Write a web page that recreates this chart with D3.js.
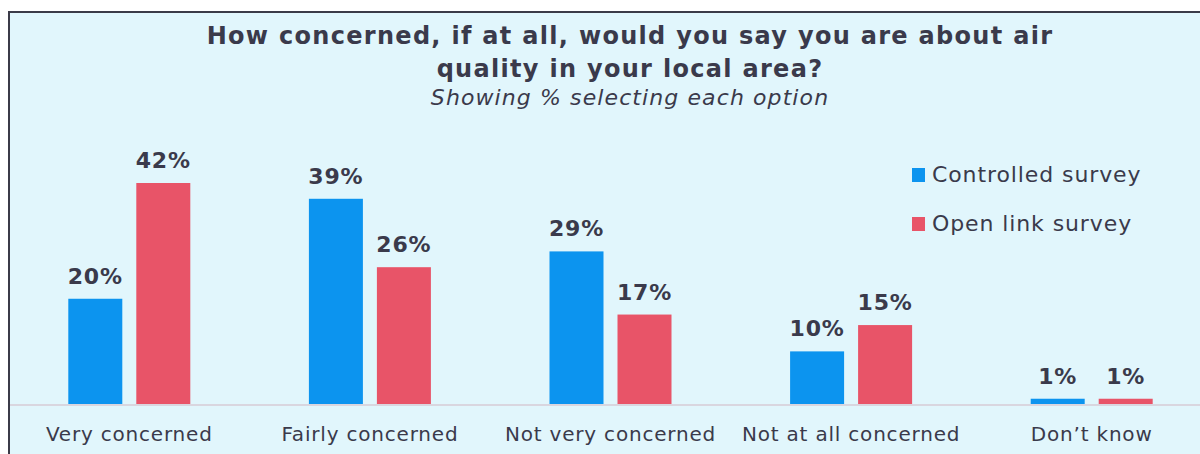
<!DOCTYPE html>
<html>
<head>
<meta charset="utf-8">
<script src="https://cdn.jsdelivr.net/npm/d3@7"></script>
<style>
  html, body { margin: 0; padding: 0; background: #ffffff; }
  svg { display: block; }
</style>
</head>
<body>
<svg id="chart" width="1200" height="454"></svg>
<script>
// Survey responses, % selecting each option
const categories = ["Very concerned", "Fairly concerned", "Not very concerned", "Not at all concerned", "Don\u2019t know"];
const seriesNames = ["Controlled survey", "Open link survey"];
const controlled = [20, 39, 29, 10, 1];
const openLink = [42, 26, 17, 15, 1];

const colors = ["#0c94ef", "#e85468"];
const textColor = "#3a3a4b";
const font = "DejaVu Sans, Verdana, sans-serif";

const svg = d3.select("#chart");
const W = 1200, H = 454;

// panel background with dark top/left frame
svg.append("rect").attr("x", 9).attr("y", 11).attr("width", W).attr("height", H)
  .attr("fill", "#e1f6fc");
svg.append("line").attr("x1", 8).attr("x2", W).attr("y1", 12).attr("y2", 12)
  .attr("stroke", "#3b3b48").attr("stroke-width", 2);
svg.append("line").attr("x1", 9).attr("x2", 9).attr("y1", 11).attr("y2", H)
  .attr("stroke", "#3b3b48").attr("stroke-width", 2);

const baseY = 404;
const x0 = d3.scaleBand().domain(categories).range([9, 1212]).paddingInner(0).paddingOuter(0);
const x1 = d3.scaleBand().domain(seriesNames)
  .range([x0.bandwidth() / 2 - 61, x0.bandwidth() / 2 + 61]).paddingInner(14 / 68);
const y = d3.scaleLinear().domain([0, 42]).range([baseY, 183]);

const rows = categories.map((c, i) => ({ cat: c, vals: [controlled[i], openLink[i]] }));

// baseline
svg.append("line").attr("x1", 10).attr("x2", W).attr("y1", baseY + 1).attr("y2", baseY + 1)
  .attr("stroke", "#d9d6df").attr("stroke-width", 2);

const groups = svg.append("g").selectAll("g").data(rows).join("g")
  .attr("transform", d => `translate(${x0(d.cat)},0)`);

groups.selectAll("rect").data(d => d.vals.map((v, k) => ({ v, k })))
  .join("rect")
  .attr("x", d => x1(seriesNames[d.k]))
  .attr("width", x1.bandwidth())
  .attr("y", d => y(d.v))
  .attr("height", d => baseY - y(d.v))
  .attr("fill", d => colors[d.k]);

groups.selectAll("text.val").data(d => d.vals.map((v, k) => ({ v, k })))
  .join("text")
  .attr("class", "val")
  .attr("x", d => x1(seriesNames[d.k]) + x1.bandwidth() / 2)
  .attr("y", d => y(d.v) - 15)
  .attr("text-anchor", "middle")
  .attr("font-family", font)
  .attr("font-weight", "bold")
  .attr("font-size", 22)
  .attr("letter-spacing", 0.8)
  .attr("fill", textColor)
  .text(d => d.v + "%");

// category axis
const axis = d3.axisBottom(x0).tickSize(0).tickPadding(0);
const ax = svg.append("g").attr("transform", `translate(0,${baseY})`).call(axis);
ax.select(".domain").remove();
ax.selectAll("text")
  .attr("y", 37)
  .attr("dy", 0)
  .attr("font-family", font)
  .attr("font-size", 20)
  .attr("letter-spacing", 0.8)
  .attr("fill", textColor);

// title
const title = svg.append("text").attr("text-anchor", "middle")
  .attr("font-family", font)
  .attr("fill", textColor);
title.append("tspan").attr("x", 630).attr("y", 44).attr("font-weight", "bold")
  .attr("font-size", 24).attr("letter-spacing", 1.3)
  .text("How concerned, if at all, would you say you are about air");
title.append("tspan").attr("x", 630).attr("y", 77).attr("font-weight", "bold")
  .attr("font-size", 24).attr("letter-spacing", 1.3)
  .text("quality in your local area?");
title.append("tspan").attr("x", 630).attr("y", 105).attr("font-style", "italic")
  .attr("font-size", 22).attr("letter-spacing", 1.1)
  .text("Showing % selecting each option");

// legend
const legend = svg.append("g").selectAll("g").data(seriesNames).join("g")
  .attr("transform", (d, i) => `translate(912,${168 + i * 49})`);
legend.append("rect").attr("width", 13).attr("height", 14).attr("fill", (d, i) => colors[i]);
legend.append("text").attr("x", 20).attr("y", 14)
  .attr("font-family", font)
  .attr("font-size", 22)
  .attr("letter-spacing", 0.9)
  .attr("fill", textColor)
  .text(d => d);
</script>
</body>
</html>
